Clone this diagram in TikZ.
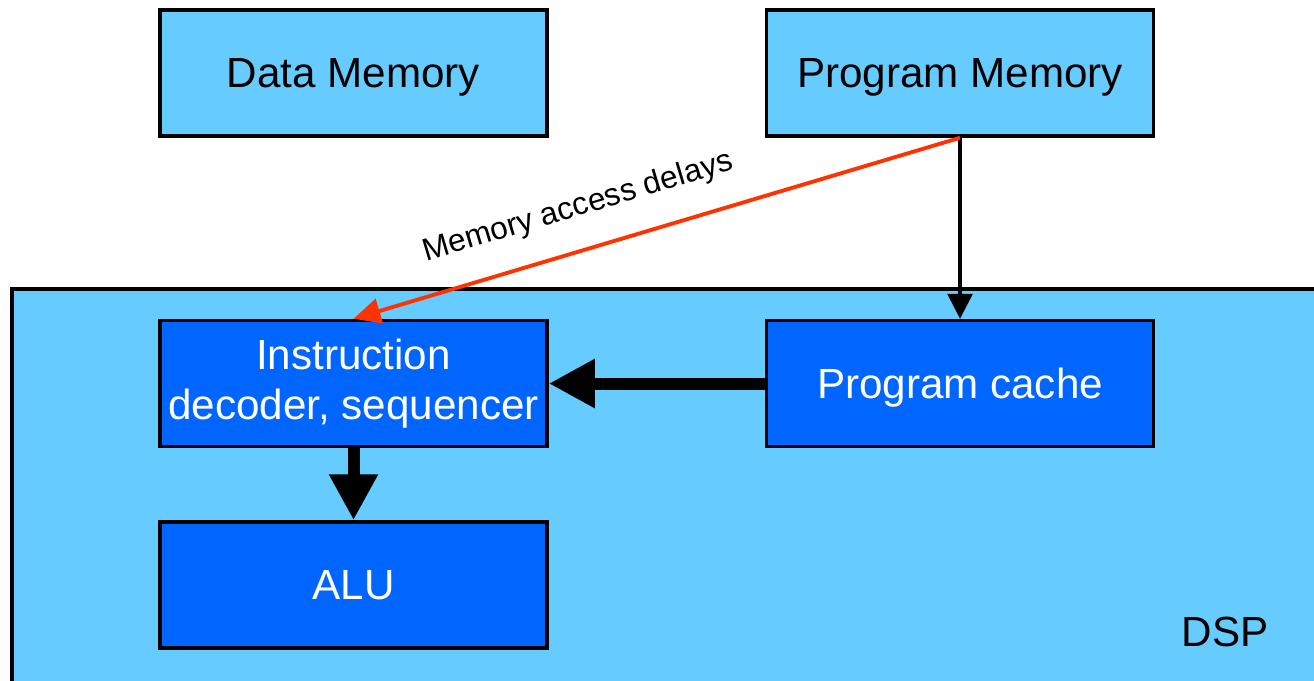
\documentclass[tikz,border=0pt]{standalone}
\usepackage{fontspec}
\setmainfont{Liberation Sans}
\usetikzlibrary{arrows.meta,positioning}
\definecolor{lightbox}{HTML}{66CCFF}
\definecolor{darkbox}{HTML}{0066FF}
\definecolor{delayred}{HTML}{FF3300}
\tikzset{
block/.style={rectangle,draw,line width=1pt,inner sep=0pt,
    minimum width=3.87cm,minimum height=1.26cm,align=center,
    font=\fontsize{12}{14.2}\selectfont},
membox/.style={block,fill=lightbox,text depth=0pt},
corebox/.style={block,fill=darkbox,text=white},
dspbox/.style={draw,line width=1.2pt,fill=lightbox},
thinarrow/.style={-{Triangle[length=0.25cm,width=0.25cm]},line width=0.9pt},
fatarrow/.style={-{Triangle[length=0.46cm,width=0.46cm]},line width=0.12cm},
delay/.style={-{Triangle[length=0.27cm,width=0.25cm]},line width=1.1pt,
    color=delayred},
}

\begin{document}
\begin{tikzpicture}
    \useasboundingbox (0,0) rectangle (13.14,6.8);

    % processor background
    \draw[dspbox] (0.12,-0.3) rectangle (13.5,3.91);
    \node (dsp) at (12.25,0.48) {\fontsize{12}{14}\selectfont DSP};

    \node[membox] (data) at (3.535,6.07) {Data Memory};
    \node[membox,right=2.16cm of data] (prog) {Program Memory};
    \node[corebox,below=1.81cm of data] (dec) {Instruction\\decoder, sequencer};
    \node[corebox,below=0.72cm of dec] (alu) {ALU};
    \node[corebox,text depth=0pt,below=1.81cm of prog] (cache) {Program cache};

    \draw[thinarrow] (prog.south) -- (cache.north);
    \draw[delay] (prog.south) -- node[pos=0.61,sloped,above=4pt,text=black,
        font=\fontsize{9}{11}\selectfont] {Memory access delays} (dec.north);
    \draw[fatarrow] (cache.west) -- (dec.east);
    \draw[fatarrow] (dec.south) -- (alu.north);
\end{tikzpicture}
\end{document}
